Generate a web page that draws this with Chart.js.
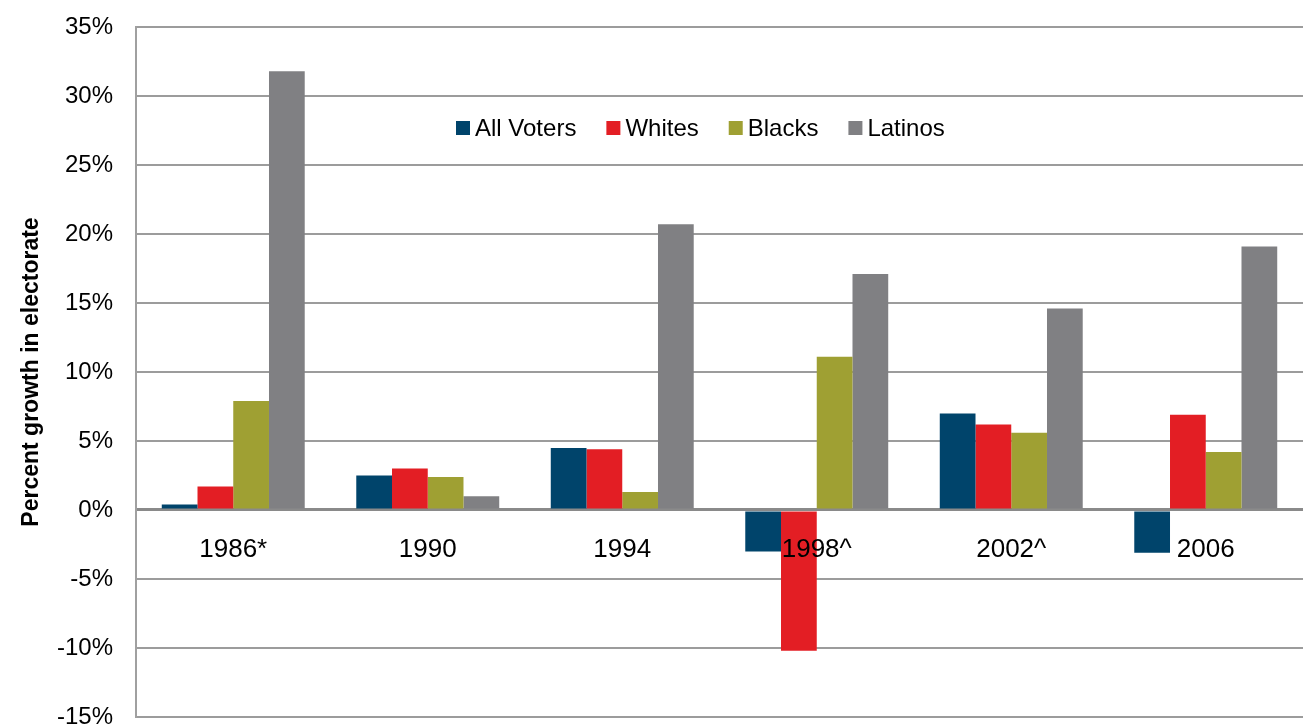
<!DOCTYPE html>
<html>
<head>
<meta charset="utf-8">
<script src="https://cdn.jsdelivr.net/npm/chart.js@4"></script>
<style>
  html, body { margin: 0; padding: 0; background: #fff; }
  #wrap { width: 1303px; height: 724px; }
</style>
</head>
<body>
<div id="wrap"><canvas id="c" width="1303" height="724"></canvas></div>
<script>
const categories = ["1986*", "1990", "1994", "1998^", "2002^", "2006"];
const allVoters = [0.4, 2.5, 4.5, -3.0, 7.0, -3.1];
const whites    = [1.7, 3.0, 4.4, -10.2, 6.2, 6.9];
const blacks    = [7.9, 2.4, 1.3, 11.1, 5.6, 4.2];
const latinos   = [31.8, 1.0, 20.7, 17.1, 14.6, 19.1];
const seriesNames = ["All Voters", "Whites", "Blacks", "Latinos"];
const seriesColors = ["#00446B", "#E31E24", "#9FA033", "#808083"];
const yTicks = { min: -15, max: 35, step: 5 };
const yTitle = "Percent growth in electorate";

const FONT = "'Liberation Sans', Arial, sans-serif";
const seriesData = [allVoters, whites, blacks, latinos];

// Legend drawn inside the plot area (as in the original), from the chart's datasets.
const insideLegend = {
  id: 'insideLegend',
  afterDraw(chart) {
    const ctx = chart.ctx;
    const box = 14, gap = 5, spacing = 30;
    const x0 = 456, yMid = 128;
    ctx.save();
    ctx.font = "24px " + FONT;
    ctx.textBaseline = 'middle';
    ctx.textAlign = 'left';
    let x = x0;
    chart.data.datasets.forEach(ds => {
      ctx.fillStyle = ds.backgroundColor;
      ctx.fillRect(x, yMid - box / 2, box, box);
      x += box + gap;
      ctx.fillStyle = '#000';
      ctx.fillText(ds.label, x, yMid + 1);
      x += ctx.measureText(ds.label).width + spacing;
    });
    ctx.restore();
  }
};

new Chart(document.getElementById('c'), {
  type: 'bar',
  data: {
    labels: categories,
    datasets: seriesNames.map((n, i) => ({
      label: n,
      data: seriesData[i],
      backgroundColor: seriesColors[i],
      borderWidth: 0,
      categoryPercentage: 0.735,
      barPercentage: 1.0
    }))
  },
  plugins: [insideLegend],
  options: {
    responsive: false,
    animation: false,
    layout: { padding: { top: 27, right: 0, bottom: 7, left: 0 } },
    plugins: {
      tooltip: { enabled: false },
      legend: { display: false }
    },
    scales: {
      x: {
        position: { y: 0 },
        grid: { display: false, drawTicks: false },
        border: { display: false },
        ticks: { z: 1, color: '#000', font: { family: FONT, size: 26 }, padding: 24, maxRotation: 0 },
        afterFit: (s) => { s.height = 0; }
      },
      y: {
        min: yTicks.min, max: yTicks.max,
        ticks: {
          stepSize: yTicks.step,
          color: '#000',
          font: { family: FONT, size: 24 },
          padding: 23,
          callback: (v) => v + '%'
        },
        grid: {
          drawTicks: false,
          color: (ctx) => ctx.tick && ctx.tick.value === 0 ? '#8a8a8a' : '#9c9c9c',
          lineWidth: (ctx) => ctx.tick && ctx.tick.value === 0 ? 3 : 2
        },
        border: { display: true, color: '#a0a0a0', width: 2 },
        title: {
          display: true, text: yTitle, color: '#000',
          font: { family: FONT, size: 23, weight: 'bold' },
          padding: { top: 18, bottom: 0 }
        },
        afterFit: (s) => { s.width = 136; s.paddingTop = 0; s.paddingBottom = 0; }
      }
    }
  }
});
</script>
</body>
</html>
